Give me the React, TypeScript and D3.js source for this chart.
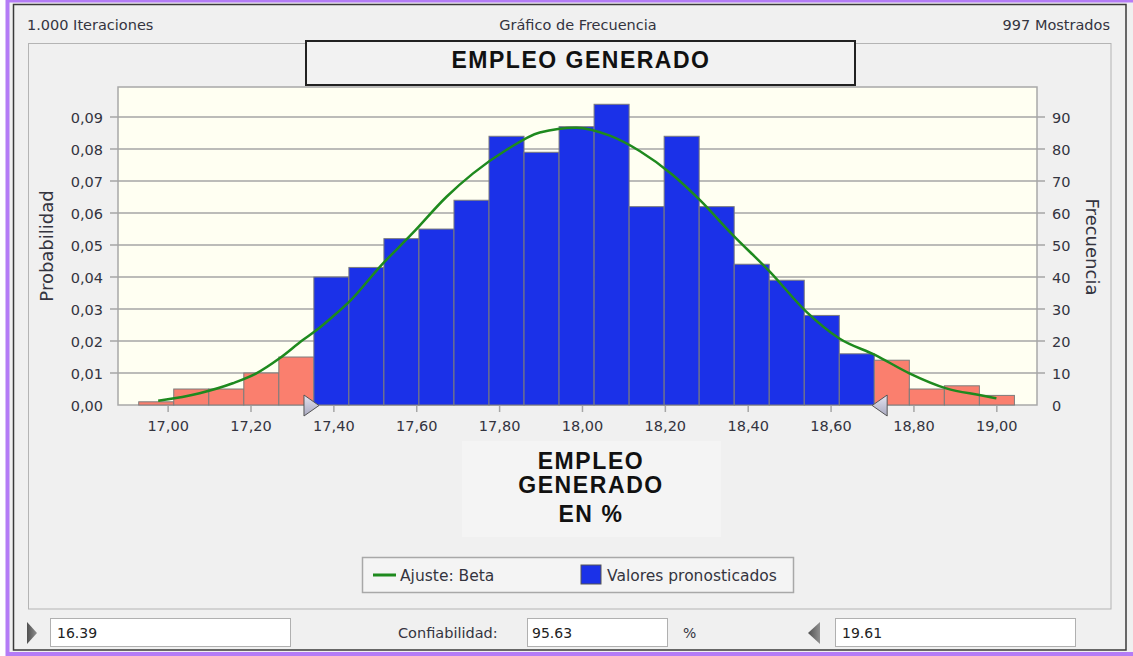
import React from 'react';
import * as d3 from 'd3';

// frecuencias por bin (suman 997 mostrados)
const frecuencias = [1, 5, 5, 10, 15, 40, 43, 52, 55, 64, 84, 79, 87, 94, 62, 84, 62, 44, 39, 28, 16, 14, 5, 6, 3];
const inicioBins = 16.929;
const anchoBin = 0.08454;
const marcadorIzq = 17.352;
const marcadorDer = 18.704;

// curva de ajuste Beta
const ajusteX = [16.976, 17.076, 17.156, 17.213, 17.269, 17.325, 17.356, 17.397, 17.441, 17.511, 17.59, 17.672, 17.736, 17.816, 17.897, 17.985, 18.066, 18.138, 18.218, 18.283, 18.363, 18.452, 18.54, 18.62, 18.707, 18.789, 18.878, 18.958, 18.999];
const ajusteP = [0.0013, 0.0037, 0.0068, 0.0099, 0.0146, 0.0203, 0.0232, 0.0276, 0.0328, 0.0432, 0.0537, 0.0651, 0.0724, 0.0797, 0.0852, 0.0867, 0.0842, 0.0794, 0.0719, 0.0641, 0.0531, 0.0417, 0.0292, 0.0208, 0.0156, 0.0099, 0.0052, 0.0031, 0.0021];

const ticksX = [17, 17.2, 17.4, 17.6, 17.8, 18, 18.2, 18.4, 18.6, 18.8, 19];
const ticksProb = [0, 0.01, 0.02, 0.03, 0.04, 0.05, 0.06, 0.07, 0.08, 0.09];
const ticksFrec = [0, 10, 20, 30, 40, 50, 60, 70, 80, 90];

const W = 1133;
const H = 656;
const plot = { left: 118, right: 1037, top: 87, bottom: 405 };
const font = '"DejaVu Sans", Verdana, sans-serif';
const fontTitulo = '"Liberation Sans", Arial, sans-serif';
const azul = '#1b31e8';
const rojo = '#fa7f6e';
const verde = '#1e8a1e';
const textoCol = '#34343f';

const es = d3.formatLocale({ decimal: ',', thousands: '.', grouping: [3], currency: ['', ''] });
const fmt2 = es.format('.2f');

export default function App() {
  const x = d3.scaleLinear().domain([16.879, 19.097]).range([plot.left, plot.right]);
  const yP = d3.scaleLinear().domain([0, 0.0994]).range([plot.bottom, plot.top]);
  const yF = d3.scaleLinear().domain([0, 99.4]).range([plot.bottom, plot.top]);

  const linea = d3.line<number>()
    .x((d, i) => x(ajusteX[i]))
    .y(d => yP(d))
    .curve(d3.curveMonotoneX);

  const bins = frecuencias.map((f, i) => {
    const x0 = inicioBins + i * anchoBin;
    const x1 = x0 + anchoBin;
    const centro = (x0 + x1) / 2;
    return { f, x0, x1, dentro: centro > marcadorIzq && centro < marcadorDer };
  });

  const mi = x(marcadorIzq);
  const md = x(marcadorDer);

  return (
    <svg width={W} height={H} style={{ position: 'absolute', left: 0, top: 0 }} fontFamily={font}>
      <defs>
        <linearGradient id="marca" x1="0" y1="0" x2="0" y2="1">
          <stop offset="0" stopColor="#e4e4f0" />
          <stop offset="1" stopColor="#a8a8c0" />
        </linearGradient>
        <linearGradient id="flecha" x1="0" y1="0" x2="1" y2="0">
          <stop offset="0" stopColor="#505050" />
          <stop offset="1" stopColor="#909090" />
        </linearGradient>
      </defs>
      <rect x={0} y={0} width={W} height={H} fill="#ffffff" />
      <rect x={7.5} y={0.5} width={1130} height={653.5} fill="#f0f0f0" stroke="#b47cf6" strokeWidth={4} />
      <rect x={13.5} y={4.5} width={1112.5} height={645.5} fill="#f0f0f0" stroke="#3a3a3a" strokeWidth={1.5} />

      {/* cabecera */}
      <text x={27} y={30} fontSize={14.5} fill={textoCol}>1.000 Iteraciones</text>
      <text x={578} y={30} fontSize={14.5} fill={textoCol} textAnchor="middle">Gráfico de Frecuencia</text>
      <text x={1110} y={30} fontSize={14.5} fill={textoCol} textAnchor="end">997 Mostrados</text>

      {/* panel interior */}
      <rect x={28.5} y={43.5} width={1082.5} height={565.5} fill="#f0f0f0" stroke="#b4b4b4" strokeWidth={1} />

      {/* area de trazado */}
      <rect x={plot.left} y={plot.top} width={plot.right - plot.left} height={plot.bottom - plot.top} fill="#fffff2" stroke="#a8a8a8" strokeWidth={1.5} />

      {/* titulo */}
      <rect x={306} y={41} width={549} height={44} fill="#f2f2f2" stroke="#222" strokeWidth={2} />
      <text x={581} y={68} fontSize={23} fontWeight="bold" fontFamily={fontTitulo} letterSpacing={1.5} fill="#111" textAnchor="middle">EMPLEO GENERADO</text>

      {/* rejilla y ticks */}
      {ticksProb.filter(t => t > 0).map(t => (
        <line key={'g' + t} x1={plot.left - 8} x2={plot.right + 8} y1={yP(t)} y2={yP(t)} stroke="#a6a6a6" strokeWidth={1.5} />
      ))}
      {ticksProb.map(t => (
        <text key={'p' + t} x={103} y={yP(t) + 5.5} fontSize={14.5} fill={textoCol} textAnchor="end">{fmt2(t)}</text>
      ))}
      {ticksFrec.map(t => (
        <text key={'f' + t} x={1052} y={yF(t) + 5.5} fontSize={14.5} fill={textoCol}>{t}</text>
      ))}
      {ticksX.map(t => (
        <g key={'x' + t}>
          <line x1={x(t)} x2={x(t)} y1={plot.bottom + 1} y2={plot.bottom + 7} stroke="#a6a6a6" strokeWidth={1.5} />
          <text x={x(t)} y={431} fontSize={14.5} fill={textoCol} textAnchor="middle">{fmt2(t)}</text>
        </g>
      ))}

      {/* barras */}
      {bins.map((b, i) => (
        <rect key={'b' + i} x={x(b.x0)} y={yF(b.f)} width={x(b.x1) - x(b.x0)} height={yF(0) - yF(b.f)}
          fill={b.dentro ? azul : rojo} stroke="#7c7c7c" strokeWidth={1} />
      ))}

      {/* ajuste */}
      <path d={linea(ajusteP) || ''} fill="none" stroke={verde} strokeWidth={2.5} />

      {/* marcadores */}
      <polygon points={`${mi - 10},395 ${mi + 5},405.5 ${mi - 10},416`} fill="url(#marca)" stroke="#555" strokeWidth={1} />
      <polygon points={`${md - 2},405.5 ${md + 13},395 ${md + 13},416`} fill="url(#marca)" stroke="#555" strokeWidth={1} />

      {/* titulos de ejes */}
      <text transform="translate(53,246) rotate(-90)" fontSize={18} fill={textoCol} textAnchor="middle">Probabilidad</text>
      <text transform="translate(1086,247) rotate(90)" fontSize={18} fill={textoCol} textAnchor="middle">Frecuencia</text>

      <rect x={462} y={441} width={259} height={96} fill="#f4f4f4" />
      <g fontSize={23} fontWeight="bold" fontFamily={fontTitulo} letterSpacing={1.6} fill="#111" textAnchor="middle">
        <text x={591} y={469}>EMPLEO</text>
        <text x={591} y={493}>GENERADO</text>
        <text x={591} y={522}>EN %</text>
      </g>

      {/* leyenda */}
      <rect x={362.5} y={557.5} width={431} height={35} fill="#f4f4f4" stroke="#a8a8a8" strokeWidth={1.5} />
      <line x1={373} x2={396} y1={575} y2={575} stroke={verde} strokeWidth={3} />
      <text x={400} y={581} fontSize={15.5} fill={textoCol}>Ajuste: Beta</text>
      <rect x={581} y={565} width={20} height={19} fill={azul} stroke="#555" strokeWidth={1} />
      <text x={607} y={581} fontSize={15.5} fill={textoCol}>Valores pronosticados</text>

      {/* controles inferiores */}
      <polygon points="27,622 37,633 27,644" fill="url(#flecha)" />
      <rect x={50.5} y={618.5} width={240} height={28} fill="#fff" stroke="#b0b0b0" strokeWidth={1} />
      <text x={57} y={638} fontSize={14} fill="#222">16.39</text>
      <text x={398} y={638} fontSize={14.5} fill={textoCol}>Confiabilidad:</text>
      <rect x={527.5} y={618.5} width={140} height={28} fill="#fff" stroke="#b0b0b0" strokeWidth={1} />
      <text x={532} y={638} fontSize={14} fill="#222">95.63</text>
      <text x={683} y={638} fontSize={14} fill={textoCol}>%</text>
      <polygon points="820,622 808,633 820,644" fill="url(#flecha)" />
      <rect x={835.5} y={618.5} width={240} height={28} fill="#fff" stroke="#b0b0b0" strokeWidth={1} />
      <text x={842} y={638} fontSize={14} fill="#222">19.61</text>
    </svg>
  );
}
